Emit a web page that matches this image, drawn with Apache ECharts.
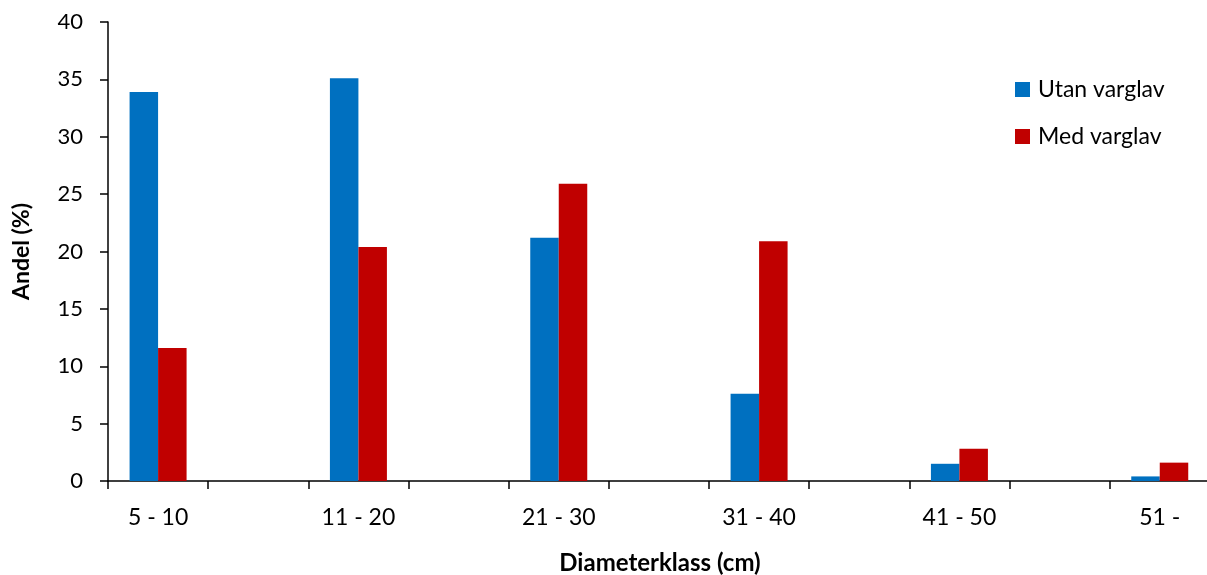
<!DOCTYPE html>
<html>
<head>
<meta charset="utf-8">
<script src="https://cdn.jsdelivr.net/npm/echarts@6/dist/echarts.min.js"></script>
<style>
  html, body { margin: 0; padding: 0; background: #fff; }
  #chart { width: 1207px; height: 575px; }
</style>
</head>
<body>
<div id="chart"></div>
<script>
// Diameter classes (cm)
const classes = ['5 - 10', '11 - 20', '21 - 30', '31 - 40', '41 - 50', '51 -'];
// Share of trees (%) per diameter class
const utanVarglav = [33.9, 35.1, 21.2, 7.6, 1.5, 0.4];
const medVarglav = [11.6, 20.4, 25.9, 20.9, 2.8, 1.6];
const yTicks = { min: 0, max: 40, interval: 5 };

// Every class is followed by an empty slot on the axis
const categories = [];
const utanData = [];
const medData = [];
classes.forEach((c, i) => {
  categories.push(c, '');
  utanData.push(utanVarglav[i], null);
  medData.push(medVarglav[i], null);
});

const FONT = 'Lato, "Open Sans", sans-serif';
const chart = echarts.init(document.getElementById('chart'), null, { renderer: 'canvas' });
chart.setOption({
  animation: false,
  backgroundColor: '#ffffff',
  textStyle: { fontFamily: FONT, color: '#000' },
  grid: { left: 108, top: 22, bottom: 94, width: 1202, containLabel: false, outerBoundsMode: 'none' },
  legend: {
    orient: 'vertical',
    left: 1010,
    top: 72,
    itemWidth: 15,
    itemHeight: 15,
    itemGap: 22,
    icon: 'rect',
    textStyle: { fontFamily: FONT, fontSize: 23, color: '#000', lineHeight: 25, padding: [0, 0, 0, 3] },
    data: ['Utan varglav', 'Med varglav']
  },
  xAxis: {
    type: 'category',
    data: categories,
    boundaryGap: true,
    axisLine: { lineStyle: { color: '#000', width: 1.5 } },
    axisTick: { show: true, interval: 0, length: 8, lineStyle: { color: '#000', width: 1.5 } },
    axisLabel: { interval: 0, margin: 25, fontFamily: FONT, fontSize: 23, color: '#000' },
    splitLine: { show: false }
  },
  yAxis: {
    type: 'value',
    min: yTicks.min,
    max: yTicks.max,
    interval: yTicks.interval,
    name: 'Andel (%)',
    nameLocation: 'middle',
    nameGap: 75,
    nameRotate: 90,
    nameTextStyle: { fontFamily: FONT, fontSize: 23, fontWeight: 'bold', color: '#000' },
    axisLine: { show: true, lineStyle: { color: '#000', width: 1.5 } },
    axisTick: { show: true, length: 8, lineStyle: { color: '#000', width: 1.5 } },
    axisLabel: { margin: 25, fontFamily: FONT, fontSize: 22, color: '#000' },
    splitLine: { show: false }
  },
  graphic: [{
    type: 'text',
    x: 660,
    y: 563,
    style: {
      text: 'Diameterklass (cm)',
      fontFamily: FONT,
      fontSize: 24,
      fontWeight: 'bold',
      fill: '#000',
      textAlign: 'center',
      textVerticalAlign: 'middle'
    }
  }],
  series: [
    {
      name: 'Utan varglav',
      type: 'bar',
      data: utanData,
      barWidth: 28.5,
      barGap: '0%',
      itemStyle: { color: '#0070C0' }
    },
    {
      name: 'Med varglav',
      type: 'bar',
      data: medData,
      barWidth: 28.5,
      barGap: '0%',
      itemStyle: { color: '#C00000' }
    }
  ]
});
</script>
</body>
</html>
